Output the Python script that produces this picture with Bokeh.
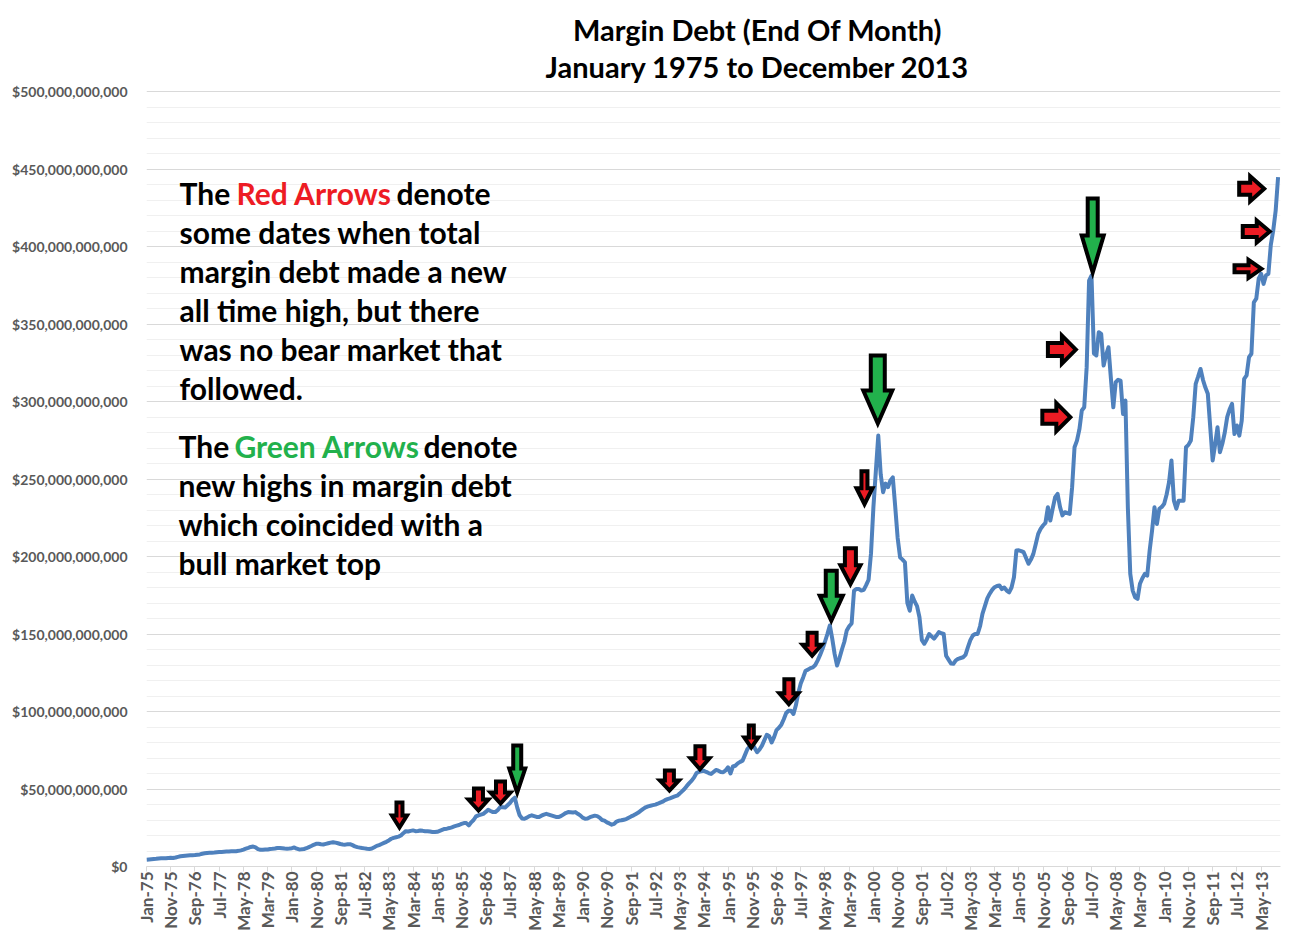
import math
from bokeh.plotting import figure
from bokeh.models import Range1d, FixedTicker
from bokeh.core.properties import value
from bokeh.embed import file_html
from bokeh.resources import INLINE

# ---------------- data (end-of-month margin debt, $ billions) ----------------
m1975 = [4.3, 4.5, 4.7, 4.9, 5.0, 5.2, 5.3, 5.4, 5.3, 5.5, 5.6, 5.5]
m1976 = [5.8, 6.2, 6.6, 6.8, 7.0, 7.1, 7.2, 7.3, 7.4, 7.6, 7.8, 8.2]
m1977 = [8.5, 8.7, 8.8, 8.9, 9.0, 9.2, 9.3, 9.4, 9.5, 9.6, 9.7, 9.8]
m1978 = [9.8, 9.9, 10.1, 10.4, 10.9, 11.5, 12.0, 12.6, 12.9, 12.3, 11.2, 10.8]
m1979 = [10.8, 10.9, 11.0, 11.3, 11.4, 11.6, 11.9, 12.0, 11.8, 11.6, 11.5, 11.6]
m1980 = [11.8, 12.3, 11.5, 11.0, 11.1, 11.3, 11.8, 12.5, 13.2, 14.0, 14.6, 14.7]
m1981 = [14.4, 14.2, 14.6, 15.0, 15.4, 15.7, 15.4, 15.0, 14.5, 14.2, 14.1, 14.4]
m1982 = [14.4, 13.8, 13.0, 12.5, 12.2, 11.9, 11.7, 11.4, 11.3, 11.6, 12.4, 13.3]
m1983 = [13.8, 14.5, 15.2, 15.9, 16.8, 17.9, 18.5, 18.9, 19.3, 20.0, 21.5, 22.8]
m1984 = [22.6, 23.0, 23.3, 22.8, 22.9, 23.2, 23.0, 22.7, 22.8, 22.6, 22.3, 22.2]
m1985 = [22.4, 23.0, 23.6, 24.2, 24.4, 24.8, 25.3, 25.9, 26.4, 26.8, 27.5, 28.0]
m1986 = [28.0, 26.5, 28.5, 30.0, 32.3, 33.0, 33.5, 34.0, 35.2, 36.6, 35.8, 35.1]
m1987 = [35.1, 36.5, 38.4, 38.2, 38.0, 39.5, 41.0, 43.0, 44.4, 38.0, 33.0, 31.0]
m1988 = [30.8, 31.5, 32.5, 33.0, 32.5, 32.0, 31.9, 32.8, 33.5, 34.0, 33.5, 33.0]
m1989 = [32.5, 32.0, 31.9, 32.5, 33.5, 34.5, 35.1, 35.0, 34.8, 35.1, 34.0, 33.0]
m1990 = [31.5, 30.8, 31.0, 31.8, 32.3, 32.8, 32.5, 31.5, 30.0, 29.6, 28.5, 27.8]
m1991 = [27.0, 27.5, 29.0, 29.6, 29.8, 30.2, 30.6, 31.5, 32.3, 33.0, 33.9, 34.8]
m1992 = [36.0, 37.2, 38.2, 38.8, 39.2, 39.6, 39.9, 40.5, 41.2, 41.8, 42.8, 43.5]
m1993 = [44.0, 44.6, 45.2, 45.7, 47.0, 48.5, 50.0, 52.0, 53.8, 55.4, 57.5, 60.3]
m1994 = [61.0, 61.5, 61.8, 61.0, 60.3, 59.7, 61.0, 62.3, 61.8, 61.0, 60.8, 62.0]
m1995 = [64.0, 60.0, 64.5, 65.0, 66.5, 67.5, 68.3, 72.0, 75.8, 77.5, 79.0, 76.5]
m1996 = [73.7, 75.5, 78.0, 81.5, 85.0, 84.0, 80.0, 83.5, 88.0, 89.5, 91.5, 95.0]
m1997 = [99.0, 100.5, 100.5, 98.4, 104.0, 112.0, 118.0, 122.0, 126.3, 127.0, 128.0, 128.5]
m1998 = [130.0, 133.0, 136.5, 140.4, 145.0, 150.0, 155.5, 147.0, 137.0, 129.7, 134.5, 140.0]
m1999 = [145.0, 152.3, 155.0, 156.8, 178.0, 179.0, 179.0, 178.0, 178.5, 181.5, 185.0, 202.0]
m2000 = [232.0, 255.0, 278.0, 253.0, 241.5, 247.0, 244.7, 249.0, 251.0, 232.0, 212.0, 199.5]
m2001 = [198.0, 196.3, 170.0, 165.0, 174.8, 171.0, 168.0, 160.8, 146.0, 143.7, 146.5, 150.0]
m2002 = [148.5, 147.0, 149.0, 151.2, 150.5, 150.0, 136.0, 133.5, 131.0, 130.8, 133.0, 134.0]
m2003 = [134.5, 135.0, 136.5, 141.5, 146.0, 149.0, 150.0, 150.0, 155.0, 163.0, 168.0, 173.0]
m2004 = [176.0, 178.5, 180.2, 181.0, 181.3, 179.0, 180.0, 178.0, 176.9, 180.0, 186.6, 203.9]
m2005 = [204.0, 203.5, 202.8, 199.0, 195.3, 198.0, 201.7, 208.0, 214.6, 217.8, 220.0, 221.7]
m2006 = [231.8, 223.2, 231.0, 238.3, 240.4, 232.0, 226.5, 228.6, 228.0, 227.5, 244.7, 270.5]
m2007 = [274.8, 282.0, 294.2, 296.3, 322.0, 378.0, 381.3, 331.0, 329.7, 344.7, 343.6, 323.2]
m2008 = [330.0, 335.0, 315.0, 296.3, 312.5, 314.0, 313.5, 292.0, 300.6, 231.8, 188.8, 178.0]
m2009 = [173.7, 172.7, 182.4, 186.0, 188.8, 187.7, 203.9, 216.8, 231.8, 221.0, 230.8, 232.0]
m2010 = [234.0, 240.0, 248.0, 262.0, 236.0, 230.8, 236.0, 236.0, 236.0, 270.5, 272.0, 274.8]
m2011 = [289.9, 311.4, 316.0, 321.0, 314.0, 309.0, 305.0, 283.4, 262.0, 272.0, 283.4, 267.3]
m2012 = [272.7, 280.0, 289.9, 295.0, 298.5, 279.0, 284.5, 278.0, 287.7, 314.6, 316.8, 328.6]
m2013 = [330.8, 364.0, 366.3, 379.2, 382.4, 375.9, 381.3, 382.4, 401.0, 410.3, 423.0, 444.7]

x_tick_labels = ["Jan-75", "Nov-75", "Sep-76", "Jul-77", "May-78", "Mar-79", "Jan-80", "Nov-80",
                 "Sep-81", "Jul-82", "May-83", "Mar-84", "Jan-85", "Nov-85", "Sep-86", "Jul-87",
                 "May-88", "Mar-89", "Jan-90", "Nov-90", "Sep-91", "Jul-92", "May-93", "Mar-94",
                 "Jan-95", "Nov-95", "Sep-96", "Jul-97", "May-98", "Mar-99", "Jan-00", "Nov-00",
                 "Sep-01", "Jul-02", "May-03", "Mar-04", "Jan-05", "Nov-05", "Sep-06", "Jul-07",
                 "May-08", "Mar-09", "Jan-10", "Nov-10", "Sep-11", "Jul-12", "May-13"]
x_tick_step = 10  # months between category labels

y_ticks = [0, 50, 100, 150, 200, 250, 300, 350, 400, 450, 500]
y_tick_labels = ["$0", "$50,000,000,000", "$100,000,000,000", "$150,000,000,000",
                 "$200,000,000,000", "$250,000,000,000", "$300,000,000,000",
                 "$350,000,000,000", "$400,000,000,000", "$450,000,000,000",
                 "$500,000,000,000"]
y_minor_ticks = [v for v in range(0, 501, 10) if v % 50 != 0]

title_lines = ["Margin Debt (End Of Month)", "January 1975 to December 2013"]

# annotation arrows: tip (month index, $B), colour, direction, outer size in px
# (length, head length, head width, shaft width)
RED = "#ed1c24"
GREEN = "#22b14c"
arrow_specs = [
    (104.4, 23.2, RED, "down", (30, 15, 19, 10)),
    (137.0, 34.2, RED, "down", (27, 14, 24, 13)),
    (146.1, 38.7, RED, "down", (27, 14, 24, 13)),
    (153.0, 45.8, GREEN, "down", (52, 27, 20, 12)),
    (215.8, 47.1, RED, "down", (25, 13, 23, 13)),
    (228.4, 60.8, RED, "down", (28, 14, 23, 13)),
    (249.6, 74.8, RED, "down", (27, 13, 18, 9)),
    (265.1, 102.8, RED, "down", (30, 14, 23, 13)),
    (274.7, 134.0, RED, "down", (28, 14, 23, 13)),
    (282.6, 156.6, GREEN, "down", (55, 28, 27, 15)),
    (290.5, 180.2, RED, "down", (41, 22, 24, 15)),
    (296.3, 231.8, RED, "down", (38, 19, 20, 10)),
    (301.8, 283.9, GREEN, "down", (73, 36, 33, 18)),
    (390.5, 381.3, GREEN, "down", (79, 40, 26, 14)),
    (384.8, 333.5, RED, "right", (33, 17, 32, 17)),
    (382.5, 289.9, RED, "right", (33, 17, 32, 17)),
    (462.5, 437.2, RED, "right", (30, 17, 29, 16)),
    (464.8, 409.7, RED, "right", (32, 16, 26, 15)),
    (461.4, 385.6, RED, "right", (32, 16, 22, 11)),
]

values = (m1975 + m1976 + m1977 + m1978 + m1979 + m1980 + m1981 + m1982 + m1983 + m1984 +
          m1985 + m1986 + m1987 + m1988 + m1989 + m1990 + m1991 + m1992 + m1993 + m1994 +
          m1995 + m1996 + m1997 + m1998 + m1999 + m2000 + m2001 + m2002 + m2003 + m2004 +
          m2005 + m2006 + m2007 + m2008 + m2009 + m2010 + m2011 + m2012 + m2013)
months = list(range(len(values)))

# ---------------- layout (Bokeh's page has no body margin) ----------------
W, H = 1295, 936
FL, FR, FT, FB = 146, 1280, 0, 866       # frame edges in page pixels
REF_Y500 = 91                            # page row of $500bn
X0, X1 = 0, 468
PXX = (FR - FL) / (X1 - X0)
PXY = (FB - REF_Y500) / 500.0
Y0 = 0.0
Y1 = (FB - FT) / PXY                     # frame extends above $500bn to hold the title

def dx(px):
    return px / PXX

def dy(px):
    return px / PXY

def rx(x):   # page pixel -> data x
    return X0 + (x - FL) / PXX

def ry(y):   # page pixel -> data y
    return (FB - y) / PXY

FONT = "Lato"
AXIS_GRAY = "#595959"

p = figure(width=W, height=H, x_range=Range1d(X0, X1), y_range=Range1d(Y0, Y1),
           output_backend="svg", toolbar_location=None, title=None,
           min_border_left=FL, min_border_right=W - FR, min_border_top=FT,
           min_border_bottom=H - FB)
p.background_fill_color = "white"
p.border_fill_color = "white"
p.outline_line_color = None

# axes
p.xgrid.grid_line_color = None
p.yaxis.ticker = FixedTicker(ticks=y_ticks, minor_ticks=y_minor_ticks)
p.yaxis.major_label_overrides = {t: l for t, l in zip(y_ticks, y_tick_labels)}
p.yaxis.axis_line_color = None
p.yaxis.major_tick_line_color = None
p.yaxis.minor_tick_line_color = None
p.yaxis.major_tick_out = 0
p.yaxis.major_tick_in = 0
p.yaxis.minor_tick_out = 0
p.yaxis.major_label_standoff = 19
p.yaxis.major_label_text_font = FONT
p.yaxis.major_label_text_font_size = "14px"
p.yaxis.major_label_text_font_style = "bold"
p.yaxis.major_label_text_color = AXIS_GRAY
p.ygrid.grid_line_color = "#d9d9d9"
p.ygrid.grid_line_width = 1
p.ygrid.minor_grid_line_color = "#f0f0f0"
p.ygrid.minor_grid_line_width = 1

x_ticks = [i * x_tick_step for i in range(len(x_tick_labels))]
p.xaxis.ticker = FixedTicker(ticks=x_ticks, minor_ticks=[])
p.xaxis.major_label_overrides = {t: l for t, l in zip(x_ticks, x_tick_labels)}
p.xaxis.major_label_orientation = math.pi / 2
p.xaxis.axis_line_color = "#d9d9d9"
p.xaxis.major_tick_line_color = "#d9d9d9"
p.xaxis.major_tick_out = 5
p.xaxis.major_tick_in = 0
p.xaxis.minor_tick_line_color = None
p.xaxis.minor_tick_out = 0
p.xaxis.major_label_standoff = 0
p.xaxis.major_label_text_font = FONT
p.xaxis.major_label_text_font_size = "17px"
p.xaxis.major_label_text_font_style = "bold"
p.xaxis.major_label_text_color = AXIS_GRAY

# series line
p.line(months, values, line_color="#4f81bd", line_width=4, line_join="round")

# arrows
xs_r, ys_r, xs_g, ys_g = [], [], [], []
for (tm, tv, col, direction, (L, hl, hwid, swid)) in arrow_specs:
    inset = 3
    Lp = L - inset - 2
    hh = hl - inset
    hw = hwid / 2 - 2
    sw = swid / 2 - 2
    if direction == "down":
        pts = [(0, 0), (-hw, hh), (-sw, hh), (-sw, Lp), (sw, Lp), (sw, hh), (hw, hh)]
        bx, by = tm, tv + dy(inset)
    else:
        pts = [(0, 0), (-hh, hw), (-hh, sw), (-Lp, sw), (-Lp, -sw), (-hh, -sw), (-hh, -hw)]
        bx, by = tm - dx(inset), tv
    px_ = [bx + dx(a) for a, b in pts]
    py_ = [by + dy(b) for a, b in pts]
    if col == RED:
        xs_r.append(px_); ys_r.append(py_)
    else:
        xs_g.append(px_); ys_g.append(py_)

p.patches(xs_r, ys_r, fill_color=RED, line_color="black", line_width=4, line_join="miter")
p.patches(xs_g, ys_g, fill_color=GREEN, line_color="black", line_width=4, line_join="miter")

# text helpers
def put(x_px, y_px, txt, color="black", size="30px", align="left"):
    p.text(x=[rx(x_px)], y=[ry(y_px)], text=[txt], text_color=color,
           text_font=value(FONT), text_font_size=size, text_font_style="bold",
           text_baseline="middle", text_align=align)

# title
put(757, 29, title_lines[0], size="29px", align="center")
put(757, 66, title_lines[1], size="29px", align="center")

# annotation text
put(179, 192, "The")
put(236, 192, "Red Arrows", RED)
put(396, 192, "denote")
block1 = ["some dates when total", "margin debt made a new", "all time high, but there",
          "was no bear market that", "followed."]
for i, line in enumerate(block1):
    put(179, 231.3 + 39.1 * i, line)

put(178, 445, "The")
put(234, 445, "Green Arrows", GREEN)
put(423, 445, "denote")
block2 = ["new highs in margin debt", "which coincided with a", "bull market top"]
for i, line in enumerate(block2):
    put(178, 484.2 + 39.2 * i, line)

open("out.html", "w").write(file_html(p, INLINE))
